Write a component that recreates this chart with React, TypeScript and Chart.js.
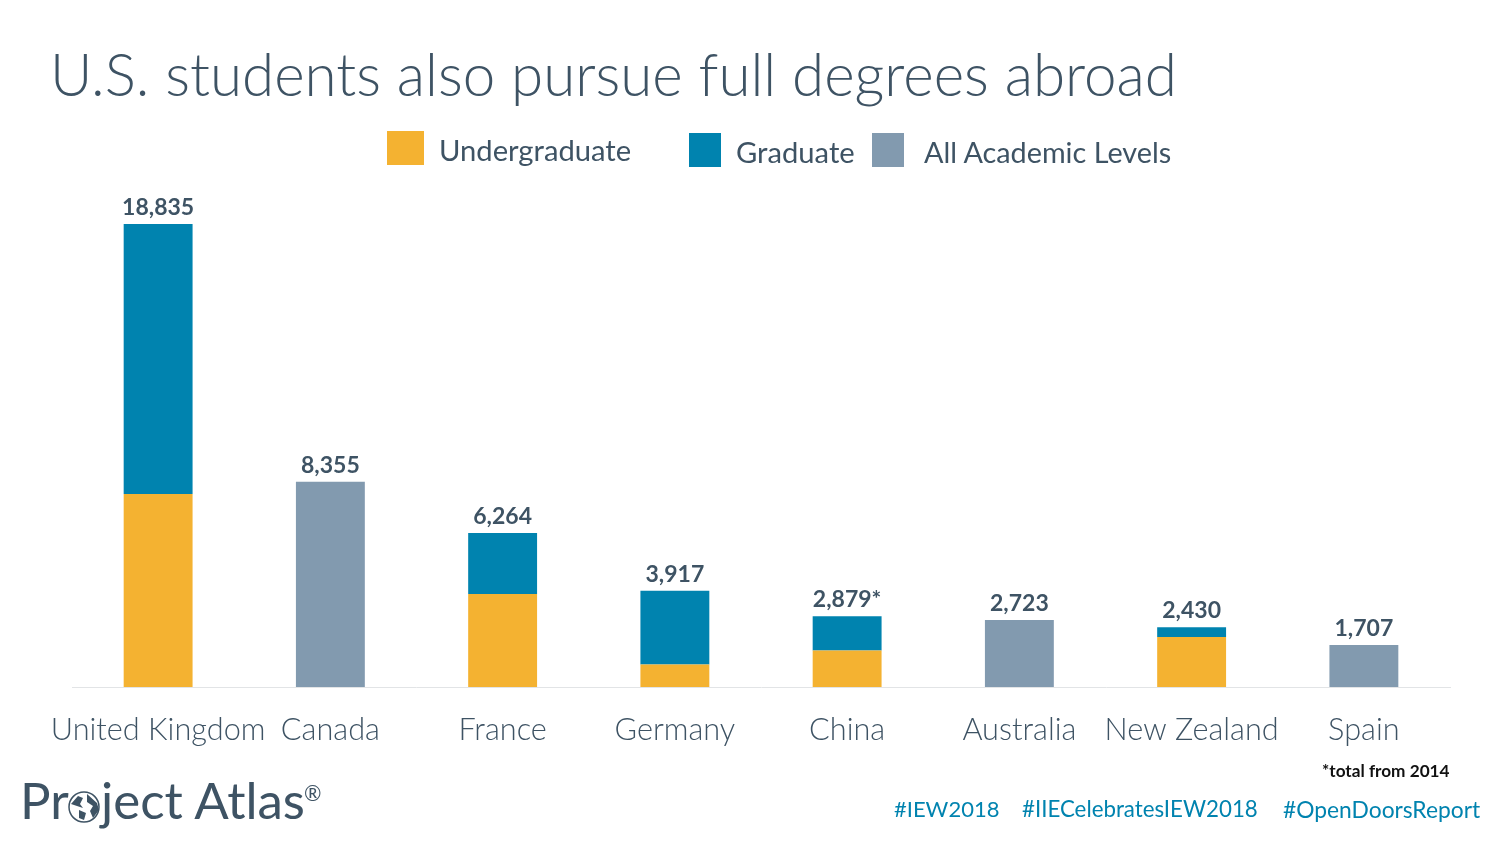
import { useEffect, useRef } from "react";
import { Chart, registerables } from "chart.js";
import type { Plugin } from "chart.js";

Chart.register(...registerables);

const countries = ["United Kingdom", "Canada", "France", "Germany", "China", "Australia", "New Zealand", "Spain"];
const undergraduate = [7852, null, 3784, 915, 1485, null, 2034, null];
const graduate = [10983, null, 2480, 3002, 1394, null, 396, null];
const allLevels = [null, 8355, null, null, null, 2723, null, 1707];
const totalLabels = ["18,835", "8,355", "6,264", "3,917", "2,879*", "2,723", "2,430", "1,707"];
const totals = [18835, 8355, 6264, 3917, 2879, 2723, 2430, 1707];

const YELLOW = "#F4B231";
const BLUE = "#0083AF";
const GRAY = "#829AAF";
const TEXT = "#3E5364";
const FONT = "Lato, 'Open Sans', sans-serif";

// totals above each stack
const totalsPlugin: Plugin<"bar"> = {
  id: "totals",
  afterDatasetsDraw(chart) {
    const { ctx, scales } = chart;
    ctx.save();
    ctx.font = `bold 23px ${FONT}`;
    ctx.fillStyle = TEXT;
    ctx.textAlign = "center";
    ctx.textBaseline = "alphabetic";
    totals.forEach((v, i) => {
      ctx.fillText(totalLabels[i], scales.x.getPixelForValue(i), scales.y.getPixelForValue(v) - 9);
    });
    ctx.restore();
  },
};

const abs = (left: number, top: number, extra: React.CSSProperties = {}): React.CSSProperties => ({
  position: "absolute",
  left,
  top,
  whiteSpace: "nowrap",
  fontFamily: FONT,
  color: TEXT,
  ...extra,
});

const Globe = () => (
  <svg width="32" height="32" viewBox="0 0 32 32" style={{ position: "absolute", left: 68, top: 791 }}>
    <circle cx="16" cy="16" r="15" fill="#fff" stroke={TEXT} strokeWidth="1.5" />
    <path d="M3 13 L10 5 L15 7 L12 13 L15 17 L9 15 Z" fill={TEXT} />
    <path d="M19 3 L29 12 L31 19 L25 27 L22 20 L25 15 L19 11 Z" fill={TEXT} />
    <path d="M11 19 L18 22 L16 29 L11 27 Z" fill={TEXT} />
  </svg>
);

export default function App() {
  const canvasRef = useRef<HTMLCanvasElement>(null);

  useEffect(() => {
    if (!canvasRef.current) return;
    const chart = new Chart(canvasRef.current, {
      type: "bar",
      data: {
        labels: countries,
        datasets: [
          { label: "Undergraduate", data: undergraduate, backgroundColor: YELLOW },
          { label: "Graduate", data: graduate, backgroundColor: BLUE },
          { label: "All Academic Levels", data: allLevels, backgroundColor: GRAY },
        ],
      },
      options: {
        animation: false,
        responsive: false,
        devicePixelRatio: 1,
        layout: { padding: { left: 72, right: 50, top: 195.4, bottom: 0 } },
        datasets: { bar: { categoryPercentage: 0.4, barPercentage: 1 } },
        plugins: { legend: { display: false }, tooltip: { enabled: false } },
        scales: {
          x: {
            stacked: true,
            afterFit: (scale) => {
              scale.height = 157;
            },
            grid: { display: false },
            border: { color: "#E2E4E6", width: 1 },
            ticks: {
              autoSkip: false,
              maxRotation: 0,
              padding: 17,
              color: TEXT,
              font: { family: FONT, size: 30.7, weight: 300 },
            },
          },
          y: { stacked: true, display: false, min: 0, max: 20000 },
        },
      },
      plugins: [totalsPlugin],
    });
    return () => chart.destroy();
  }, []);

  return (
    <div style={{ position: "absolute", left: 0, top: 0, width: 1500, height: 844, background: "#fff", overflow: "hidden" }}>
      <canvas ref={canvasRef} width={1500} height={844} style={{ position: "absolute", left: 0, top: 0 }} />
      <div style={abs(50, 38, { fontSize: 58.3, fontWeight: 300, lineHeight: "70px" })}>U.S. students also pursue full degrees abroad</div>

      <div style={abs(387, 131, { width: 37, height: 34, background: YELLOW })} />
      <div style={abs(439, 132, { fontSize: 29.2, lineHeight: "36px" })}>Undergraduate</div>
      <div style={abs(689, 133, { width: 32, height: 34, background: BLUE })} />
      <div style={abs(736, 134, { fontSize: 29.2, lineHeight: "36px" })}>Graduate</div>
      <div style={abs(872, 133, { width: 32, height: 34, background: GRAY })} />
      <div style={abs(924, 134, { fontSize: 28.8, lineHeight: "36px" })}>All Academic Levels</div>

      <div style={abs(1322, 761, { fontSize: 17.2, fontWeight: 700, lineHeight: "20px", color: "#111" })}>*total from 2014</div>
      <div style={abs(894, 794, { fontSize: 22, lineHeight: "30px", color: BLUE })}>#IEW2018</div>
      <div style={abs(1022, 794, { fontSize: 22.3, lineHeight: "30px", color: BLUE })}>#IIECelebratesIEW2018</div>
      <div style={abs(1283, 794, { fontSize: 22.8, lineHeight: "30px", color: BLUE })}>#OpenDoorsReport</div>

      <div style={abs(20, 770, { fontSize: 51, lineHeight: "60px" })}>Pr</div>
      <Globe />
      <div style={abs(101, 770, { fontSize: 51, lineHeight: "60px" })}>ject Atlas</div>
      <div style={abs(304, 781, { fontSize: 21, lineHeight: "24px" })}>®</div>
    </div>
  );
}
